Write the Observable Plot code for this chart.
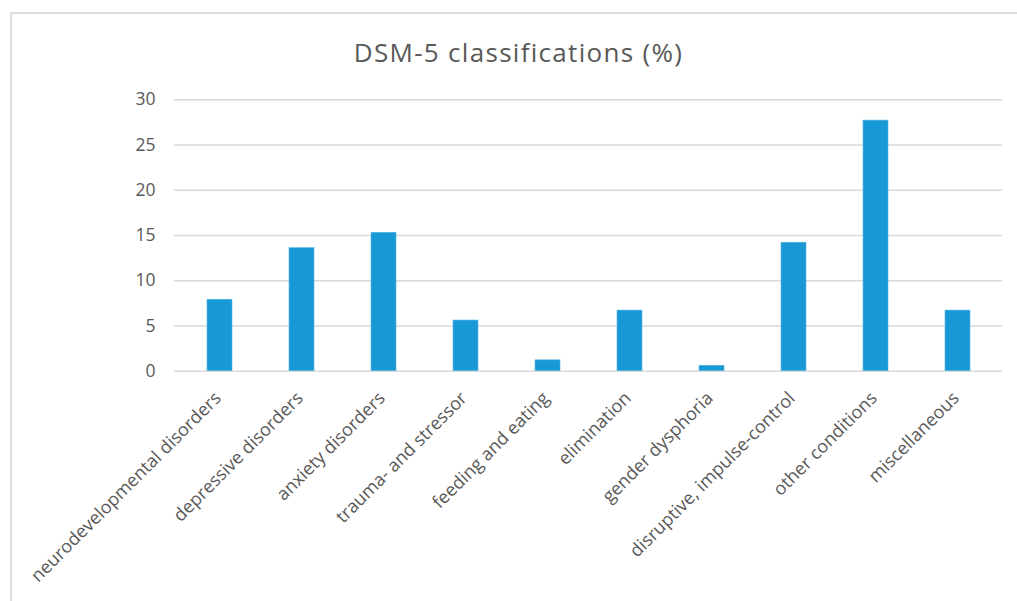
<!DOCTYPE html>
<html>
<head>
<meta charset="utf-8">
<script src="https://cdn.jsdelivr.net/npm/d3@7"></script>
<script src="https://cdn.jsdelivr.net/npm/@observablehq/plot@0.6"></script>
<style>
  html, body { margin: 0; padding: 0; background: #fff; }
  #wrap { position: relative; width: 1017px; height: 601px; overflow: hidden; font-family: "Open Sans", sans-serif; }
  #frame { position: absolute; left: 10px; top: 12px; width: 1100px; height: 700px;
           border-left: 2px solid #dcdcdc; border-top: 2px solid #dcdcdc; box-sizing: border-box; }
  #title { position: absolute; left: 10px; top: 39px; width: 1017px; text-align: center;
           font-size: 26px; line-height: 26px; letter-spacing: 1.3px; color: #595959; }
  #plot { position: absolute; left: 0; top: 0; }
</style>
</head>
<body>
<div id="wrap">
  <div id="frame"></div>
  <div id="title">DSM-5 classifications (%)</div>
  <div id="plot"></div>
</div>
<script>
// DSM-5 diagnostic groups and their share of cases (%)
const categories = [
  "neurodevelopmental disorders",
  "depressive disorders",
  "anxiety disorders",
  "trauma- and stressor",
  "feeding and eating",
  "elimination",
  "gender dysphoria",
  "disruptive, impulse-control",
  "other conditions",
  "miscellaneous"
];
const percents = [7.9, 13.6, 15.3, 5.6, 1.2, 6.7, 0.6, 14.2, 27.7, 6.7];
const yTicks = [0, 5, 10, 15, 20, 25, 30];

const rows = categories.map((c, i) => ({category: c, value: percents[i]}));

const chart = Plot.plot({
  width: 1017,
  height: 601,
  marginLeft: 174,
  marginRight: 15,
  marginTop: 99.3,
  marginBottom: 230.3,
  style: {fontFamily: "'Open Sans', sans-serif", color: "#595959", background: "transparent"},
  x: {domain: categories, paddingInner: 0.7, paddingOuter: 0.35, axis: null},
  y: {domain: [0, 30]},
  marks: [
    Plot.gridY(yTicks, {stroke: "#d9d9d9", strokeOpacity: 1, strokeWidth: 1.5}),
    Plot.axisY(yTicks, {tickSize: 0, tickPadding: 19, label: null, fontSize: 17.5, fill: "#595959"}),
    Plot.barY(rows, {x: "category", y: "value", fill: "#1899d6", stroke: "#5ab8e6", strokeWidth: 0.6}),
    // rotated category labels hanging below the baseline
    Plot.text(rows, {
      x: "category", y: () => 0,
      text: "category",
      rotate: -45,
      textAnchor: "end",
      lineAnchor: "middle",
      dx: -2, dy: 24,
      fontSize: 18,
      fill: "#595959"
    })
  ]
});
document.getElementById("plot").appendChild(chart);
</script>
</body>
</html>
